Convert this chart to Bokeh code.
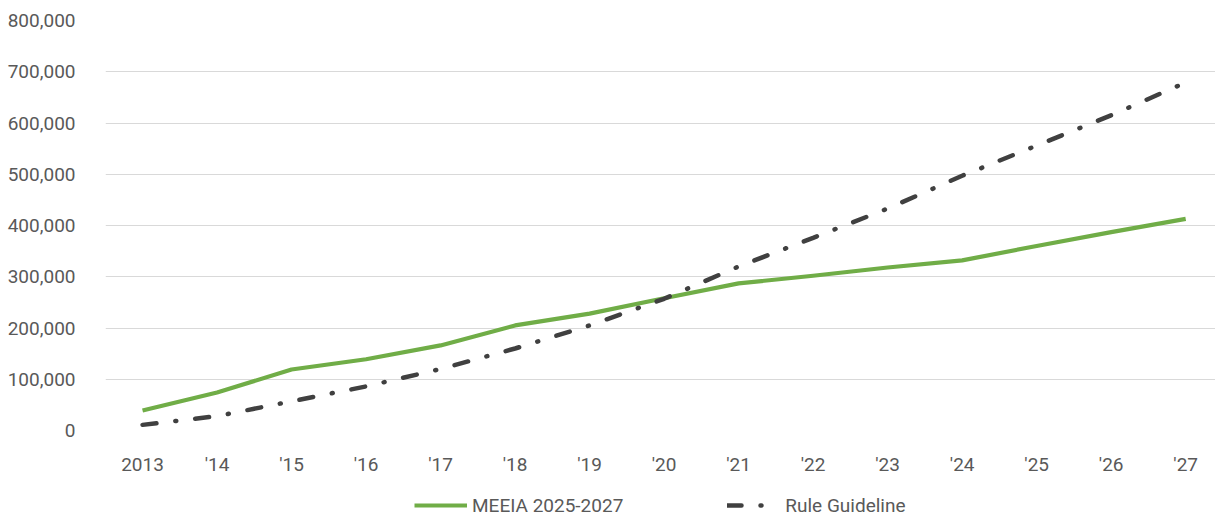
from bokeh.plotting import figure
from bokeh.layouts import column
from bokeh.models import (Range1d, FixedTicker, NumeralTickFormatter, Legend, LegendItem)
from bokeh.embed import file_html
from bokeh.resources import INLINE

years = ["2013", "'14", "'15", "'16", "'17", "'18", "'19", "'20",
         "'21", "'22", "'23", "'24", "'25", "'26", "'27"]
meeia = [39000, 74000, 119000, 139000, 166000, 205000, 228000, 258000,
         287000, 302000, 318000, 332000, 360000, 387000, 413000]
rule = [11000, 28000, 57000, 86000, 120000, 160000, 205000, 257000,
        320000, 376000, 433000, 497000, 556000, 615000, 679000]
y_ticks = [0, 100000, 200000, 300000, 400000, 500000, 600000, 700000, 800000]
series_names = ["MEEIA 2025-2027", "Rule Guideline"]

xs = list(range(len(years)))
FONT = "Roboto"
TXT = "#595959"
GREEN = "#70AD47"
DARK = "#404040"
DASH = "14 19 1 19"

p = figure(width=1215, height=493, output_backend="svg", toolbar_location=None,
           x_range=Range1d(-0.497, 14.40), y_range=Range1d(0, 800000),
           min_border_left=105, min_border_right=0, min_border_top=20,
           min_border_bottom=63)
p.outline_line_color = None
p.background_fill_color = "white"
p.border_fill_color = "white"

p.xgrid.grid_line_color = None
p.ygrid.grid_line_color = "#d9d9d9"
p.ygrid.grid_line_width = 1.2
p.ygrid.ticker = FixedTicker(ticks=y_ticks)

p.yaxis.ticker = FixedTicker(ticks=y_ticks)
p.yaxis.formatter = NumeralTickFormatter(format="0,0")
p.xaxis.ticker = FixedTicker(ticks=xs)
p.xaxis.major_label_overrides = {i: lab for i, lab in enumerate(years)}

for ax in (p.xaxis, p.yaxis):
    ax.axis_line_color = None
    ax.major_tick_line_color = None
    ax.minor_tick_line_color = None
    ax.major_tick_out = 0
    ax.major_tick_in = 0
    ax.major_label_text_font = FONT
    ax.major_label_text_font_size = "19px"
    ax.major_label_text_color = TXT
p.yaxis.major_label_standoff = 30
p.xaxis.major_label_standoff = 22

p.line(xs, meeia, line_color=GREEN, line_width=4.2, line_join="round")
p.line(xs, rule, line_color=DARK, line_width=4.5, line_dash=DASH, line_cap="round")

# legend strip below the chart (its frame is aligned with the chart's frame);
# its proxy lines lie outside its ranges, so only the legend shows
lf = figure(width=1215, height=24, output_backend="svg", toolbar_location=None,
            x_range=Range1d(-20, -19), y_range=Range1d(-20, -19),
            min_border_left=0, min_border_right=0, min_border_top=0,
            min_border_bottom=0)
lf.axis.visible = False
lf.grid.grid_line_color = None
lf.outline_line_color = None
lf.background_fill_alpha = 0
lg = lf.line(xs, meeia, line_color=GREEN, line_width=4.2)
lr = lf.line(xs, rule, line_color=DARK, line_width=4.5, line_dash=DASH, line_cap="round")

legend = Legend(items=[LegendItem(label=series_names[0], renderers=[lg]),
                       LegendItem(label=series_names[1], renderers=[lr])],
                location=(309, 0), orientation="horizontal",
                glyph_width=53, glyph_height=24, label_height=24,
                label_standoff=5, spacing=104,
                padding=0, margin=0, border_line_color=None,
                background_fill_alpha=0,
                label_text_font=FONT, label_text_font_size="19px",
                label_text_color=TXT)
lf.add_layout(legend, "center")

open("out.html", "w").write(file_html(column(p, lf, spacing=0), INLINE))
